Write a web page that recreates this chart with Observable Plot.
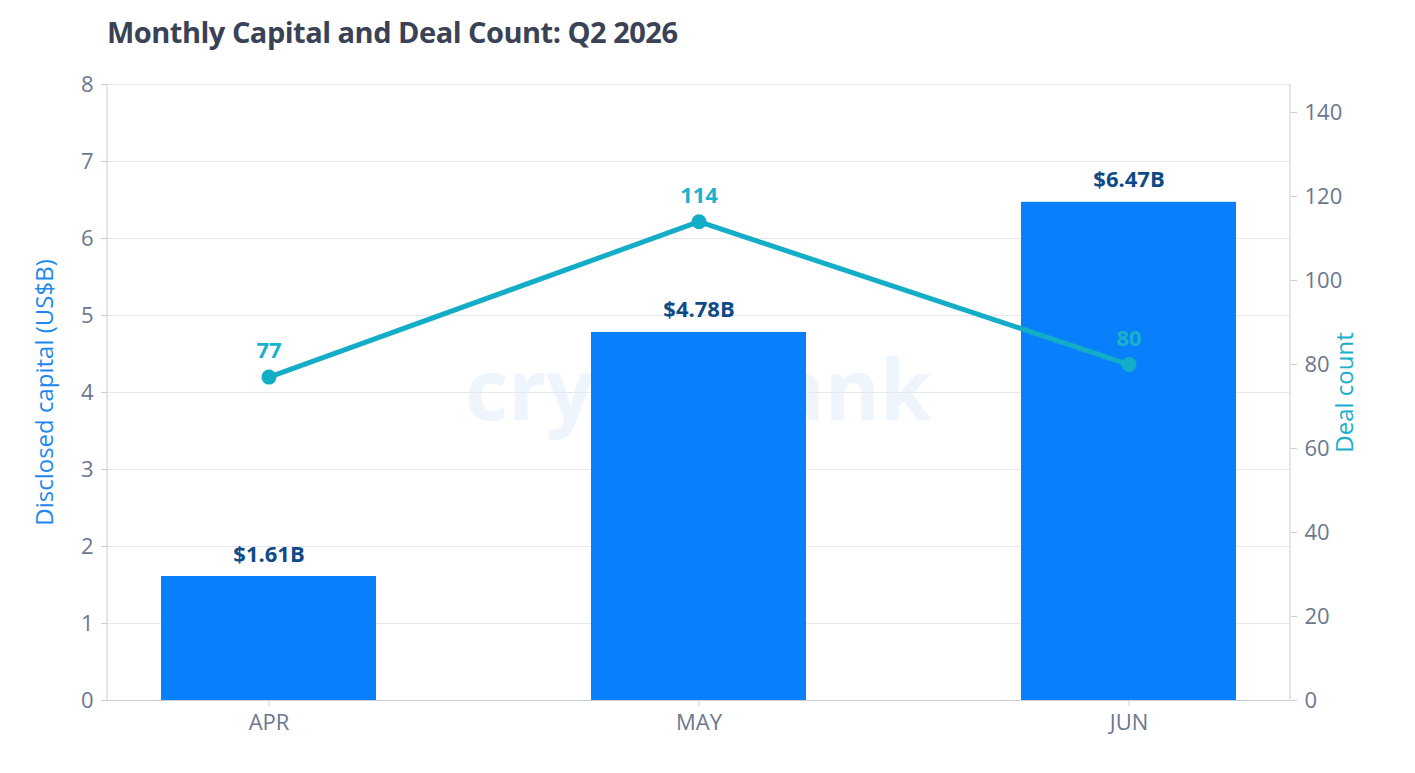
<!DOCTYPE html>
<html><head>
<script src="https://cdn.jsdelivr.net/npm/d3@7"></script>
<script src="https://cdn.jsdelivr.net/npm/@observablehq/plot@0.6"></script>
<style>
body{margin:0;background:#fff;font-family:"Open Sans",sans-serif;}
#t{height:60px;padding-left:107px;box-sizing:border-box;padding-top:12px;font-size:29px;font-weight:700;color:#3a4256;font-family:"Open Sans";letter-spacing:-0.5px}
#c{position:relative}
#wm{position:absolute;left:0;width:1397px;top:270px;text-align:center;font-size:84px;font-weight:700;color:#eef5fd;pointer-events:none}
</style></head><body>
<div id="t">Monthly Capital and Deal Count: Q2 2026</div>
<div id="c"><div id="wm">cryptorank</div></div>
<script>
const months=["APR","MAY","JUN"];
const capital=[1.61,4.78,6.47];
const deals=[77,114,80];
const leftTicks=[0,1,2,3,4,5,6,7,8];
const rightTicks=[0,20,40,60,80,100,120,140];
const rightMax=146.67, leftMax=8;
const k=leftMax/rightMax;
const data=months.map((m,i)=>({m,cap:capital[i],deal:deals[i],dl:deals[i]*k}));
const chart=Plot.plot({
  width:1415,height:713,marginLeft:107,marginRight:125,marginTop:24,marginBottom:73,
  style:{fontFamily:"Open Sans",fontSize:"22px",color:"#6b7890"},
  x:{domain:months,paddingInner:0.5,paddingOuter:0.123,label:null},
  y:{domain:[0,leftMax],label:null},
  marks:[
    Plot.gridY(leftTicks,{stroke:"#e5e8ee",strokeOpacity:1}),
    Plot.barY(data,{x:"m",y:"cap",fill:"#0880fb"}),
    Plot.text(data,{x:"m",y:"cap",text:d=>"$"+d.cap.toFixed(2)+"B",dy:-22,fill:"#0e4a88",fontWeight:700,fontSize:22}),
    Plot.line(data,{x:"m",y:"dl",stroke:"#14adc8",strokeWidth:5}),
    Plot.dot(data,{x:"m",y:"dl",r:7.5,fill:"#14adc8"}),
    Plot.text(data,{x:"m",y:"dl",text:d=>String(d.deal),dy:-26,fill:"#1ab2c9",fontWeight:700,fontSize:22}),
    Plot.axisX({tickSize:6,stroke:"#c8ced8",tickPadding:8,fill:"#6b7890",fontSize:22,tickFormat:d=>d}),
    Plot.ruleY([0],{stroke:"#c8ced8"}),
    Plot.axisY(leftTicks,{anchor:"left",tickSize:6,stroke:"#c8ced8",tickPadding:8,fill:"#6b7890",fontSize:22,tickFormat:d=>String(d),label:null}),
    Plot.axisY(rightTicks.map(v=>v*k),{anchor:"right",tickSize:6,stroke:"#c8ced8",tickPadding:8,fill:"#6b7890",fontSize:22,tickFormat:v=>String(Math.round(v/k)),label:null}),
    Plot.text(["Disclosed capital (US$B)"],{frameAnchor:"left",textAnchor:"middle",dx:-62,rotate:-90,fill:"#1e88ee",fontSize:24}),
    Plot.text(["Deal count"],{frameAnchor:"right",textAnchor:"middle",dx:55,rotate:-90,fill:"#17b0c8",fontSize:24})
  ]
});
const n=chart;
const ns="http://www.w3.org/2000/svg";
[[107,24,107,640],[1290,24,1290,640]].forEach(([x1,y1,x2,y2])=>{const l=document.createElementNS(ns,"line");l.setAttribute("x1",x1);l.setAttribute("y1",y1);l.setAttribute("x2",x2);l.setAttribute("y2",y2);l.setAttribute("stroke","#c8ced8");n.appendChild(l);});
chart.style.position="relative";
document.getElementById("c").appendChild(chart);
</script></body></html>
